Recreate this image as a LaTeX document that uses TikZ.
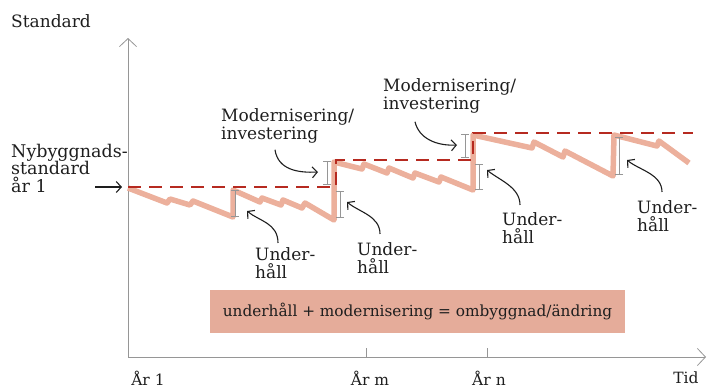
\documentclass[tikz,border=0pt]{standalone}
\usepackage{fontspec}
\setmainfont{DejaVu Serif}
\usepackage{xcolor}
\usetikzlibrary{arrows.meta,positioning,calc}
\definecolor{dashred}{RGB}{182,42,32}
\definecolor{sawpink}{RGB}{236,176,156}
\definecolor{boxpink}{RGB}{229,172,154}
\definecolor{axisgray}{RGB}{150,150,150}
\definecolor{inkgray}{RGB}{30,30,30}

\begin{document}
\begin{tikzpicture}[x=1pt,y=-1pt,
  lbl/.style={font=\fontsize{17}{18.5}\selectfont, text=inkgray, align=left, inner sep=0pt, anchor=west},
  axlbl/.style={font=\fontsize{15.5}{17}\selectfont, text=inkgray, inner sep=0pt},
  axisline/.style={draw=axisgray, line width=0.8pt, -{Straight Barb[length=8pt,width=17pt]}},
  sawline/.style={draw=sawpink, line width=5.5pt, line join=round},
  standardline/.style={draw=dashred, line width=2.8pt, dash pattern=on 13pt off 8pt},
  ibar/.style={draw=axisgray, line width=0.7pt, {Bar[width=8pt]}-{Bar[width=8pt]}},
  pointer/.style={draw=inkgray, line width=1.1pt, -{Straight Barb[length=5pt,width=11pt]}}]
\useasboundingbox (0,0) rectangle (707,389);

% axes
\coordinate (origin) at (128,357);
\coordinate (ytop) at (128,38);
\coordinate (xend) at (706,357);
\draw[axisline] (origin) -- (ytop);
\draw[axisline] (origin) -- (xend);
\draw[axisgray, line width=0.8pt] (366,357) -- ++(0,-9);
\draw[axisgray, line width=0.8pt] (487,357) -- ++(0,-9);

\node[lbl] (stdlbl) at (11,21) {Standard};
\node[axlbl] (ar1) at (148,378) {År 1};
\node[axlbl] (arm) at (370,378) {År m};
\node[axlbl] (arn) at (489,378) {År n};
\node[axlbl] (tid) at (686,378) {Tid};

% actual standard, wears down and gets restored
\draw[sawline] (128,188) -- (167,203) -- (170,199) -- (190,205) -- (193,201) -- (233,217) -- (233,190)
  -- (260,202) -- (262,198) -- (281,205) -- (283,200) -- (302,208) -- (305,203) -- (334,220) -- (334,162)
  -- (362,169) -- (364,164) -- (387,173) -- (389,168) -- (413,178) -- (415,173) -- (439,182) -- (441,177)
  -- (473,190) -- (473,135)
  -- (532,148) -- (534,142) -- (563,157) -- (565,151) -- (613,176) -- (614,135)
  -- (657,146) -- (659,141) -- (689,163);

% new-build standard raised by investments
\coordinate (start1) at (128,187);
\draw[standardline] (start1) -- (336,187) -- (336,160) -- (473,160) -- (473,133) -- (693,133);

% spans
\draw[ibar] (235,190) -- (235,217);
\draw[ibar] (327,161) -- (327,185);
\draw[ibar] (340,191) -- (340,218);
\draw[ibar] (465,134) -- (465,158);
\draw[ibar] (479,164) -- (479,190);
\draw[ibar] (619,137) -- (619,175);

% labels
\node[lbl, font=\fontsize{17.5}{17.5}\selectfont] (nyb) at (11,168) {Nybyggnads-\\standard\\år 1};
\node[lbl] (modA) at (221,126) {Modernisering/\\investering};
\node[lbl] (modB) at (383,96) {Modernisering/\\investering};
\node[lbl] (undA) at (255,263) {Under-\\håll};
\node[lbl] (undB) at (357,258) {Under-\\håll};
\node[lbl] (undC) at (502,228) {Under-\\håll};
\node[lbl] (undD) at (637,216) {Under-\\håll};

\coordinate (modAto) at (318,172);
\coordinate (modBto) at (457,145);
\coordinate (undAto) at (247,211);
\coordinate (undBto) at (347,202);
\coordinate (undCto) at (487,170);
\coordinate (undDto) at (627,160);

\draw[pointer] ($(nyb.south west |- start1)+(84,0)$) -- ([xshift=-6pt]start1);
\draw[pointer] ([xshift=54pt,yshift=-6pt]modA.south west) .. controls +(3,20) and +(-20,1) .. (modAto);
\draw[pointer] ([xshift=32pt,yshift=-8pt]modB.south west) .. controls +(4,17) and +(-20,1) .. (modBto);
\draw[pointer] ([xshift=23pt,yshift=4pt]undA.north west) .. controls +(0,-20) and +(12,10) .. (undAto);
\draw[pointer] ([xshift=23pt,yshift=8pt]undB.north west) .. controls +(0,-18) and +(12,10) .. (undBto);
\draw[pointer] ([xshift=18pt,yshift=7pt]undC.north west) .. controls +(0,-18) and +(12,10) .. (undCto);
\draw[pointer] ([xshift=25pt,yshift=8pt]undD.north west) .. controls +(0,-18) and +(12,10) .. (undDto);

\node[fill=boxpink, minimum width=415pt, minimum height=43pt, font=\fontsize{15.3}{17}\selectfont, text=inkgray] (eq) at (417.5,311.5) {underhåll + modernisering = ombyggnad/ändring};
\end{tikzpicture}
\end{document}
